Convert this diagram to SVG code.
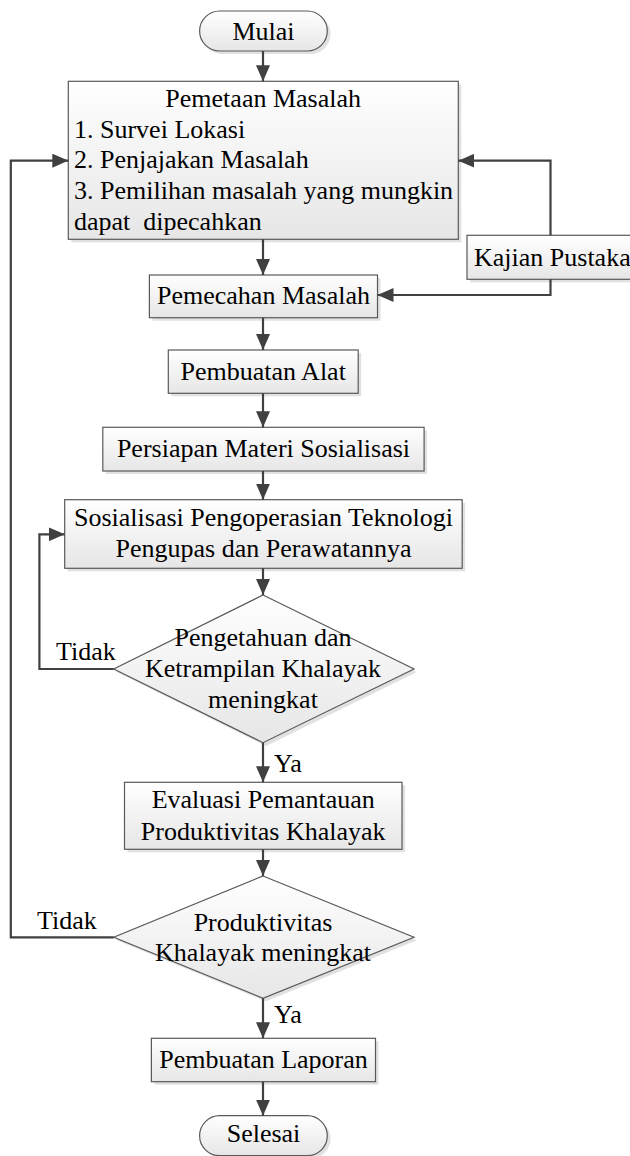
<svg xmlns="http://www.w3.org/2000/svg" width="630" height="1156" viewBox="0 0 630 1156">
<defs>
<linearGradient id="g" x1="0" y1="0" x2="0" y2="1">
<stop offset="0" stop-color="#ffffff"/>
<stop offset="1" stop-color="#e6e6e6"/>
</linearGradient>
<marker id="ah" markerUnits="userSpaceOnUse" markerWidth="16" markerHeight="14" refX="16" refY="7" orient="auto">
<path d="M0,0 L16,7 L0,14 z" fill="#404040"/>
</marker>
<style>
.b{fill:url(#g);stroke:#595959;stroke-width:1.2}
.s{fill:#d4d4d4;opacity:0.7}
.t{font-family:"Liberation Serif","Times New Roman",serif;font-size:26px;fill:#000}
.c{text-anchor:middle}
.k{fill:none;stroke:#404040;stroke-width:2.2;marker-end:url(#ah)}
</style>
</defs>
<rect width="630" height="1156" fill="#fff"/>

<g id="mulai">
<rect class="s" x="202.5" y="14" width="128" height="40" rx="20"/>
<rect class="b" x="199.6" y="11" width="127.7" height="40" rx="20"/>
<text class="t c" x="263.5" y="39.5">Mulai</text>
</g>

<g id="pemetaan">
<rect class="s" x="71.3" y="84.3" width="390" height="158"/>
<rect class="b" x="68.3" y="81.3" width="390" height="158"/>
<text class="t c" x="263.2" y="107">Pemetaan Masalah</text>
<text class="t" x="74" y="137.5">1. Survei Lokasi</text>
<text class="t" x="74" y="168">2. Penjajakan Masalah</text>
<text class="t" x="74" y="199">3. Pemilihan masalah yang mungkin</text>
<text class="t" x="74" y="230" xml:space="preserve">dapat  dipecahkan</text>
</g>

<g id="kajian">
<rect class="s" x="470" y="238.3" width="170" height="44"/>
<rect class="b" x="467" y="235.3" width="170" height="44"/>
<text class="t" x="474" y="266">Kajian Pustaka</text>
</g>

<g id="pemecahan">
<rect class="s" x="152.4" y="278" width="228.1" height="42.7"/>
<rect class="b" x="149.4" y="275" width="228.1" height="42.7"/>
<text class="t c" x="263.5" y="304">Pemecahan Masalah</text>
</g>

<g id="alat">
<rect class="s" x="171.3" y="353" width="189.9" height="43.3"/>
<rect class="b" x="168.3" y="350" width="189.9" height="43.3"/>
<text class="t c" x="263.2" y="380">Pembuatan Alat</text>
</g>

<g id="persiapan">
<rect class="s" x="105.8" y="430.3" width="321.3" height="43.7"/>
<rect class="b" x="102.8" y="427.3" width="321.3" height="43.7"/>
<text class="t c" x="263.5" y="456.5">Persiapan Materi Sosialisasi</text>
</g>

<g id="sosialisasi">
<rect class="s" x="67.7" y="502.7" width="397.5" height="68.6"/>
<rect class="b" x="64.7" y="499.7" width="397.5" height="68.6"/>
<text class="t c" x="263.5" y="525.5">Sosialisasi Pengoperasian Teknologi</text>
<text class="t c" x="263.5" y="557">Pengupas dan Perawatannya</text>
</g>

<g id="keputusan1">
<polygon class="s" points="266,598 417,672 266,746 116.7,672"/>
<polygon class="b" points="263,595 414,669 263,742.7 113.7,669"/>
<text class="t c" x="263" y="645.5">Pengetahuan dan</text>
<text class="t c" x="263" y="677">Ketrampilan Khalayak</text>
<text class="t c" x="263" y="708">meningkat</text>
</g>

<g id="evaluasi">
<rect class="s" x="127.5" y="785.3" width="277.5" height="67"/>
<rect class="b" x="124.5" y="782.3" width="277.5" height="67"/>
<text class="t c" x="263.2" y="808">Evaluasi Pemantauan</text>
<text class="t c" x="263.2" y="839.5">Produktivitas Khalayak</text>
</g>

<g id="keputusan2">
<polygon class="s" points="266,879 417,940.3 266,1001.3 116.7,940.3"/>
<polygon class="b" points="263,876 414,937.3 263,998.3 113.7,937.3"/>
<text class="t c" x="263" y="930.5">Produktivitas</text>
<text class="t c" x="263" y="961">Khalayak meningkat</text>
</g>

<g id="laporan">
<rect class="s" x="154.4" y="1041.3" width="224.1" height="43.4"/>
<rect class="b" x="151.4" y="1038.3" width="224.1" height="43.4"/>
<text class="t c" x="263.5" y="1068">Pembuatan Laporan</text>
</g>

<g id="selesai">
<rect class="s" x="202.5" y="1118.7" width="128" height="40" rx="20"/>
<rect class="b" x="199.6" y="1115.7" width="127.7" height="40" rx="20"/>
<text class="t c" x="263.5" y="1142">Selesai</text>
</g>

<g id="connectors">
<path class="k" d="M263,51 V81.3"/>
<path class="k" d="M263,239.3 V275"/>
<path class="k" d="M550.5,235.3 V160.7 H458.3"/>
<path class="k" d="M550.5,279.3 V295 H377.5"/>
<path class="k" d="M263,317.7 V350"/>
<path class="k" d="M263,393.3 V427.3"/>
<path class="k" d="M263,471 V499.7"/>
<path class="k" d="M263,568.3 V595"/>
<path class="k" d="M113.7,669 H39.4 V534.3 H64.7"/>
<path class="k" d="M263,742.7 V782.3"/>
<path class="k" d="M263,849.3 V876"/>
<path class="k" d="M113.7,937.3 H10.8 V160.7 H68.3"/>
<path class="k" d="M263,998.3 V1038.3"/>
<path class="k" d="M263,1081.7 V1115.7"/>
<text class="t" x="56" y="660">Tidak</text>
<text class="t" x="274" y="771.5">Ya</text>
<text class="t" x="37" y="929">Tidak</text>
<text class="t" x="274" y="1023">Ya</text>
</g>
</svg>
